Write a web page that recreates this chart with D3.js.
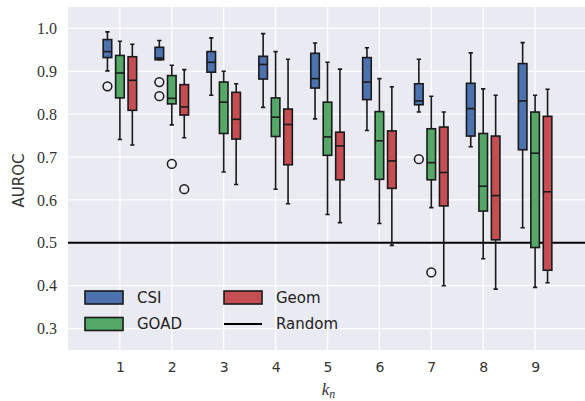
<!DOCTYPE html>
<html lang="en">
<head>
<meta charset="UTF-8">
<title>AUROC by k_n</title>
<script src="https://d3js.org/d3.v7.min.js"></script>
<style>
  body { margin: 0; background: #fff; }
  svg { display: block; }
</style>
</head>
<body>
<div id="chart"></div>
<script>
// ---- data ----
const groups = [1, 2, 3, 4, 5, 6, 7, 8, 9];
const seriesNames = ["CSI", "GOAD", "Geom"];
const yTicks = [0.3, 0.4, 0.5, 0.6, 0.7, 0.8, 0.9, 1.0];

// each box: [whisker low, q1, median, q3, whisker high]
const csiBoxes = [
  [0.901, 0.932, 0.946, 0.974, 0.992],
  [0.927, 0.927, 0.931, 0.956, 0.972],
  [0.844, 0.898, 0.921, 0.946, 0.978],
  [0.816, 0.882, 0.916, 0.935, 0.988],
  [0.789, 0.861, 0.883, 0.942, 0.966],
  [0.762, 0.834, 0.875, 0.932, 0.955],
  [0.805, 0.822, 0.831, 0.871, 0.928],
  [0.724, 0.749, 0.813, 0.872, 0.943],
  [0.535, 0.717, 0.831, 0.918, 0.967]
];
const goadBoxes = [
  [0.741, 0.838, 0.896, 0.937, 0.970],
  [0.775, 0.824, 0.837, 0.890, 0.914],
  [0.665, 0.755, 0.828, 0.875, 0.900],
  [0.625, 0.748, 0.793, 0.838, 0.946],
  [0.566, 0.704, 0.747, 0.828, 0.921],
  [0.545, 0.648, 0.738, 0.806, 0.883],
  [0.582, 0.647, 0.687, 0.766, 0.842],
  [0.463, 0.574, 0.632, 0.755, 0.859],
  [0.396, 0.489, 0.709, 0.805, 0.844]
];
const geomBoxes = [
  [0.728, 0.809, 0.879, 0.934, 0.963],
  [0.745, 0.798, 0.817, 0.869, 0.904],
  [0.636, 0.742, 0.788, 0.851, 0.871],
  [0.591, 0.682, 0.776, 0.812, 0.928],
  [0.547, 0.647, 0.726, 0.758, 0.905],
  [0.494, 0.627, 0.691, 0.761, 0.864],
  [0.400, 0.586, 0.664, 0.770, 0.805],
  [0.392, 0.507, 0.610, 0.749, 0.844],
  [0.407, 0.436, 0.619, 0.795, 0.858]
];
// outliers: [group, value]
const csiOutliers = [[1, 0.865], [2, 0.875], [2, 0.842], [7, 0.695]];
const goadOutliers = [[2, 0.684], [7, 0.431]];
const geomOutliers = [[2, 0.625]];
const randomLevel = 0.5;

// ---- layout ----
const W = 585, H = 401;
const plot = {left: 68, top: 7, right: 587, bottom: 350};
const colors = ["#4C72B0", "#55A868", "#C44E52"];
const offsets = [-0.24, 0, 0.24];
const boxW = 0.165;

const svg = d3.select("#chart").append("svg")
  .attr("width", W).attr("height", H);

const x = d3.scaleLinear().domain([0, 10]).range([plot.left, plot.right]);
const y = d3.scaleLinear().domain([0.25, 1.05]).range([plot.bottom, plot.top]);

svg.append("rect")
  .attr("x", plot.left).attr("y", plot.top)
  .attr("width", plot.right - plot.left).attr("height", plot.bottom - plot.top)
  .attr("fill", "#EAEAF2");

// grid
svg.append("g").selectAll("line").data(yTicks).join("line")
  .attr("x1", plot.left).attr("x2", plot.right)
  .attr("y1", d => y(d)).attr("y2", d => y(d))
  .attr("stroke", "#fff").attr("stroke-width", 1.3);
svg.append("g").selectAll("line").data(groups).join("line")
  .attr("x1", d => x(d)).attr("x2", d => x(d))
  .attr("y1", plot.top).attr("y2", plot.bottom)
  .attr("stroke", "#fff").attr("stroke-width", 1.3);

// axes (no ticks, no domain)
const yAxis = svg.append("g")
  .attr("transform", `translate(${plot.left},0)`)
  .call(d3.axisLeft(y).tickValues(yTicks).tickFormat(d3.format(".1f")).tickSize(0).tickPadding(11));
yAxis.select(".domain").remove();
yAxis.selectAll("text")
  .attr("font-family", "'Liberation Serif', 'DejaVu Serif', serif")
  .attr("font-size", 16).attr("fill", "#333");

const xAxis = svg.append("g")
  .attr("transform", `translate(0,${plot.bottom})`)
  .call(d3.axisBottom(x).tickValues(groups).tickFormat(d3.format("d")).tickSize(0).tickPadding(12));
xAxis.select(".domain").remove();
xAxis.selectAll("text")
  .attr("font-family", "'DejaVu Sans', sans-serif")
  .attr("font-size", 14).attr("fill", "#333");

svg.append("text")
  .attr("transform", `translate(24,${(plot.top + plot.bottom) / 2 + 2}) rotate(-90)`)
  .attr("text-anchor", "middle")
  .attr("font-family", "'DejaVu Sans', sans-serif")
  .attr("font-size", 15).attr("fill", "#333")
  .text("AUROC");

const xl = svg.append("text")
  .attr("x", (plot.left + 585) / 2 + 2).attr("y", 395)
  .attr("text-anchor", "middle")
  .attr("font-family", "'Liberation Serif', 'DejaVu Serif', serif")
  .attr("font-style", "italic").attr("font-size", 17).attr("fill", "#333");
xl.append("tspan").text("k");
xl.append("tspan").attr("font-size", 12).attr("dy", 3).text("n");

// random line
svg.append("line")
  .attr("x1", plot.left).attr("x2", plot.right)
  .attr("y1", y(randomLevel)).attr("y2", y(randomLevel))
  .attr("stroke", "#000").attr("stroke-width", 2);

// boxes
const allBoxes = [csiBoxes, goadBoxes, geomBoxes];
const allOutliers = [csiOutliers, goadOutliers, geomOutliers];
const edge = "#1a1a1a";

allBoxes.forEach((boxes, s) => {
  const g = svg.append("g").attr("class", "series " + seriesNames[s]);
  const data = boxes.map((b, i) => ({g: groups[i], lo: b[0], q1: b[1], med: b[2], q3: b[3], hi: b[4]}));
  const cx = d => x(d.g + offsets[s]);
  const half = (x(boxW) - x(0)) / 2;
  const cap = half / 2;

  // whiskers
  g.selectAll(".whisk").data(data).join("path")
    .attr("d", d => `M${cx(d)},${y(d.hi)}V${y(d.q3)}M${cx(d)},${y(d.q1)}V${y(d.lo)}` +
      `M${cx(d) - cap},${y(d.hi)}H${cx(d) + cap}M${cx(d) - cap},${y(d.lo)}H${cx(d) + cap}`)
    .attr("stroke", edge).attr("stroke-width", 1.6).attr("fill", "none");

  g.selectAll(".box").data(data).join("rect")
    .attr("x", d => cx(d) - half).attr("width", half * 2)
    .attr("y", d => y(d.q3)).attr("height", d => y(d.q1) - y(d.q3))
    .attr("fill", colors[s]).attr("stroke", edge).attr("stroke-width", 1.6);

  g.selectAll(".med").data(data).join("line")
    .attr("x1", d => cx(d) - half).attr("x2", d => cx(d) + half)
    .attr("y1", d => y(d.med)).attr("y2", d => y(d.med))
    .attr("stroke", edge).attr("stroke-width", 1.6);

  g.selectAll(".out").data(allOutliers[s]).join("circle")
    .attr("cx", d => x(d[0] + offsets[s])).attr("cy", d => y(d[1]))
    .attr("r", 4.4).attr("fill", "none").attr("stroke", edge).attr("stroke-width", 1.5);
});

// legend
const legend = svg.append("g").attr("font-family", "'DejaVu Sans', sans-serif").attr("font-size", 15).attr("fill", "#222");
const legendItems = [
  {label: "CSI", type: "patch", color: colors[0], col: 0, row: 0},
  {label: "GOAD", type: "patch", color: colors[1], col: 0, row: 1},
  {label: "Geom", type: "patch", color: colors[2], col: 1, row: 0},
  {label: "Random", type: "line", color: "#000", col: 1, row: 1}
];
const colX = [85, 224], rowY = [297.5, 324];
legendItems.forEach(it => {
  const lx = colX[it.col], ly = rowY[it.row];
  if (it.type === "patch") {
    legend.append("rect").attr("x", lx).attr("y", ly - 6.5).attr("width", 38).attr("height", 13)
      .attr("fill", it.color).attr("stroke", edge).attr("stroke-width", 1.6);
  } else {
    legend.append("line").attr("x1", lx).attr("x2", lx + 38).attr("y1", ly).attr("y2", ly)
      .attr("stroke", it.color).attr("stroke-width", 2);
  }
  legend.append("text").attr("x", lx + 52).attr("y", ly).attr("dy", "0.36em").text(it.label);
});
</script>
</body>
</html>
